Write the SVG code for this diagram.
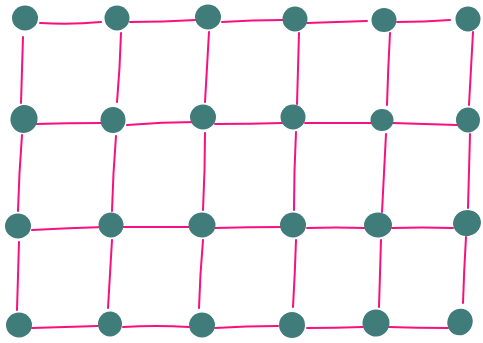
<svg xmlns="http://www.w3.org/2000/svg" width="483" height="343" viewBox="0 0 483 343">
<style>
.e{fill:none;stroke:#f7107f;stroke-width:2;stroke-linecap:round;stroke-linejoin:round}
.n{fill:#407c7a}
</style>
<rect width="483" height="343" fill="#ffffff"/>
<g id="connectors">
<path class="e" d="M40,23 Q70,25 101,22"/>
<path class="e" d="M130,22 Q163,22 196,20"/>
<path class="e" d="M222,22 Q252,20 283,20"/>
<path class="e" d="M307,23 Q337,22 367,21"/>
<path class="e" d="M397,22 Q424,22 450,20"/>
<path class="e" d="M35,124 Q68,123 102,123"/>
<path class="e" d="M127,125 Q162,122 197,122"/>
<path class="e" d="M215,124 Q249,124 283,123"/>
<path class="e" d="M305,123 Q338,123 372,123"/>
<path class="e" d="M392,123 Q424,124 457,125"/>
<path class="e" d="M32,230 Q68,228 105,227"/>
<path class="e" d="M122,227 Q156,227 190,227"/>
<path class="e" d="M215,228 Q249,227 283,227"/>
<path class="e" d="M307,228 Q336,227 365,228"/>
<path class="e" d="M392,228 Q422,227 453,228"/>
<path class="e" d="M32,328 Q65,327 98,326"/>
<path class="e" d="M123,327 Q156,325 189,327"/>
<path class="e" d="M215,328 Q246,326 278,326"/>
<path class="e" d="M307,328 Q335,328 363,327"/>
<path class="e" d="M388,327 Q418,328 448,328"/>
<path class="e" d="M23,37 Q22,70 21,103"/>
<path class="e" d="M22,135 Q19,173 18,211"/>
<path class="e" d="M19,242 Q18,276 17,310"/>
<path class="e" d="M121,33 Q120,68 117,102"/>
<path class="e" d="M116,136 Q113,173 112,211"/>
<path class="e" d="M112,240 Q110,274 108,308"/>
<path class="e" d="M209,32 Q207,67 205,102"/>
<path class="e" d="M205,133 Q205,171 203,210"/>
<path class="e" d="M203,240 Q200,274 199,308"/>
<path class="e" d="M299,33 Q298,68 297,104"/>
<path class="e" d="M296,132 Q294,171 294,210"/>
<path class="e" d="M296,240 Q295,273 293,307"/>
<path class="e" d="M390,33 Q388,69 387,105"/>
<path class="e" d="M386,134 Q384,173 382,212"/>
<path class="e" d="M381,240 Q380,273 379,307"/>
<path class="e" d="M473,32 Q471,68 469,105"/>
<path class="e" d="M470,134 Q469,171 468,208"/>
<path class="e" d="M466,237 Q464,270 463,303"/>
</g>
<g id="n00"><ellipse class="n" cx="25" cy="18" rx="13" ry="12.5"/></g>
<g id="n10"><ellipse class="n" cx="117" cy="18" rx="12.5" ry="12.5"/></g>
<g id="n20"><ellipse class="n" cx="208" cy="17" rx="13" ry="12.5"/></g>
<g id="n30"><ellipse class="n" cx="295" cy="19" rx="12.5" ry="12.5"/></g>
<g id="n40"><ellipse class="n" cx="384" cy="20" rx="12.5" ry="12"/></g>
<g id="n50"><ellipse class="n" cx="468" cy="19" rx="12.5" ry="12.5"/></g>
<g id="n01"><ellipse class="n" cx="24" cy="119" rx="13.5" ry="14" transform="rotate(20 24 119)"/></g>
<g id="n11"><ellipse class="n" cx="113" cy="120" rx="12.5" ry="13"/></g>
<g id="n21"><ellipse class="n" cx="203" cy="117" rx="13" ry="12.5"/></g>
<g id="n31"><ellipse class="n" cx="293" cy="117" rx="12.5" ry="12.5"/></g>
<g id="n41"><ellipse class="n" cx="382" cy="120" rx="11.5" ry="11"/></g>
<g id="n51"><ellipse class="n" cx="468" cy="120" rx="12" ry="12.5"/></g>
<g id="n02"><ellipse class="n" cx="18" cy="226" rx="13" ry="12.5"/></g>
<g id="n12"><ellipse class="n" cx="111" cy="225" rx="12.5" ry="12.5"/></g>
<g id="n22"><ellipse class="n" cx="202" cy="225" rx="13.5" ry="12.5"/></g>
<g id="n32"><ellipse class="n" cx="293" cy="225" rx="13" ry="12.5"/></g>
<g id="n42"><ellipse class="n" cx="378" cy="225" rx="14" ry="12.5"/></g>
<g id="n52"><ellipse class="n" cx="467" cy="223" rx="14" ry="13" transform="rotate(-15 467 223)"/></g>
<g id="n03"><ellipse class="n" cx="19" cy="325" rx="13" ry="12.5"/></g>
<g id="n13"><ellipse class="n" cx="110" cy="324" rx="12" ry="12.5"/></g>
<g id="n23"><ellipse class="n" cx="202" cy="325" rx="13" ry="12.5"/></g>
<g id="n33"><ellipse class="n" cx="292" cy="325" rx="13" ry="13"/></g>
<g id="n43"><ellipse class="n" cx="376" cy="323" rx="13.5" ry="13.5" transform="rotate(20 376 323)"/></g>
<g id="n53"><ellipse class="n" cx="460" cy="322" rx="12.5" ry="13.5" transform="rotate(25 460 322)"/></g>
</svg>
